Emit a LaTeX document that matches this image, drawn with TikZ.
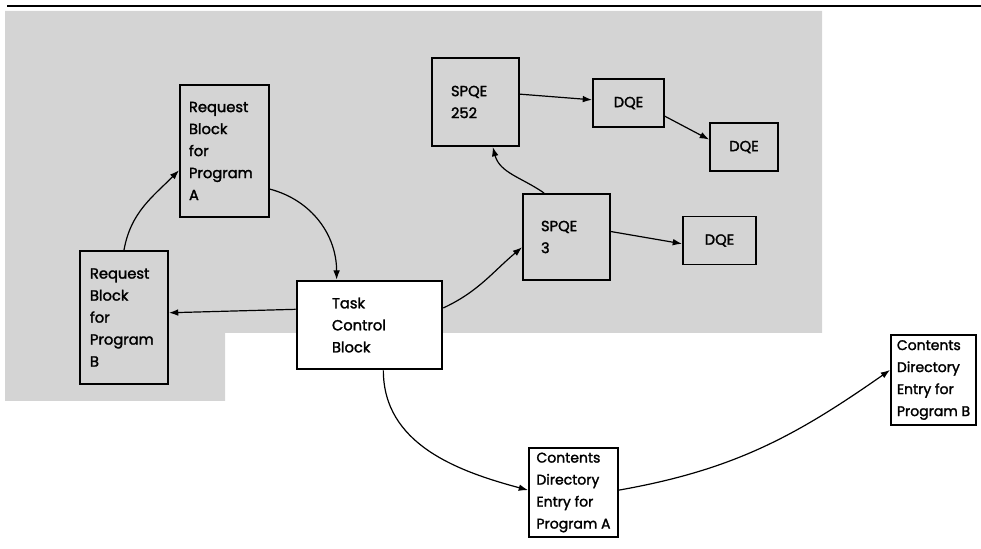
\documentclass[tikz,border=0pt]{standalone}
\usepackage{fontspec}
\setmainfont{Poppins}[FakeBold=1.8]
\usetikzlibrary{arrows.meta}
\definecolor{screen}{RGB}{212,212,212}

\begin{document}
\begin{tikzpicture}[x=0.75pt, y=0.75pt,
  every node/.style={font=\fontsize{11}{16.5}\selectfont},
  blk/.style={draw, line width=1.4pt, align=left, inner ysep=0pt},
  dqe/.style={draw, line width=1.4pt, minimum height=36pt},
  cde/.style={draw, line width=1.4pt, fill=white, align=left, inner sep=0pt,
    font=\fontsize{10.5}{16.5}\selectfont},
  link/.style={line width=0.9pt, -{Latex[length=7pt,width=5pt]}}]
  \useasboundingbox (0,0) rectangle (981,549);
  % shaded area and rule at the top
  \fill[screen] (5,538) -- (822,538) -- (822,216) -- (225,216) -- (225,148) -- (5,148) -- cycle;
  \draw[line width=1.6pt] (7,543) -- (981,543);
  % blocks
  \node[blk, inner xsep=6.75pt, text width=53.25pt, minimum height=99pt] (rbA) at (224.5,398) {Request\\Block\\for\\Program\\A};
  \node[blk, inner xsep=7.5pt, text width=51pt, minimum height=99.75pt] (rbB) at (124,231.5) {Request\\Block\\for\\Program\\B};
  \node[blk, line width=1.9pt, fill=white, inner xsep=26.25pt, text width=56.25pt, minimum height=66pt] (tcb) at (369.5,224) {Task\\Control\\Block};
  \node[blk, inner xsep=13.5pt, text width=38.25pt, minimum height=64.5pt] (spq3) at (566.5,312) {SPQE\\3};
  \node[blk, inner xsep=14.25pt, text width=36.75pt, minimum height=66pt] (spq252) at (475.5,447) {SPQE\\252};
  \node[dqe, minimum width=53.25pt] (dqeA) at (628.5,446) {DQE};
  \node[dqe, minimum width=51pt] (dqeB) at (744,402) {DQE};
  \node[dqe, minimum width=54.75pt] (dqeC) at (719.5,308.5) {DQE};
  \node[cde, minimum width=66.75pt, minimum height=66.75pt] (cdeA) at (573.5,56.5) {Contents\\Directory\\Entry for\\Program A};
  \node[cde, minimum width=63.75pt, minimum height=67.5pt] (cdeB) at (933.5,169) {Contents\\Directory\\Entry for\\Program B};
  % pointers
  \draw[link] (rbB.north) to[out=80,in=225] (rbA.203);
  \draw[link] (rbA.-40) to[out=-15,in=90] (tcb.126);
  \draw[link] (tcb.168) -- (rbB.6);
  \draw[link] (tcb.13) to[out=25,in=220] (spq3.193);
  \draw[link] (spq3.117) to[out=145,in=-75] (spq252.-69);
  \draw[link] (spq252.10) -- (dqeA.175);
  \draw[link] (dqeA.-20) -- (dqeB.168);
  \draw[link] (spq3.7) -- (dqeC.185);
  \draw[link] (tcb.-73) to[out=-90,in=165] (cdeA.177);
  \draw[link] (cdeA.3) to[out=10,in=215] (cdeB.167);
\end{tikzpicture}
\end{document}
